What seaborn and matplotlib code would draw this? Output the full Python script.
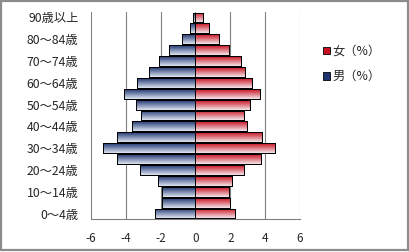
import numpy as np
import pandas as pd
import matplotlib
matplotlib.use("Agg")
import matplotlib.pyplot as plt
import seaborn as sns
from matplotlib.patches import Rectangle, Patch
from matplotlib.colors import LinearSegmentedColormap

sns.set_theme(style="white")
plt.rcParams['font.family'] = ['Noto Sans CJK JP', 'DejaVu Sans']
plt.rcParams['axes.unicode_minus'] = False

# age groups, top to bottom
ages = ["90歳以上", "85～89歳", "80～84歳", "75～79歳", "70～74歳", "65～69歳",
        "60～64歳", "55～59歳", "50～54歳", "45～49歳", "40～44歳", "35～39歳",
        "30～34歳", "25～29歳", "20～24歳", "15～19歳", "10～14歳", "5～9歳", "0～4歳"]
male = [0.17, 0.33, 0.77, 1.52, 2.09, 2.67, 3.36, 4.10, 3.41, 3.13, 3.64, 4.50,
        5.31, 4.50, 3.18, 2.15, 1.92, 1.95, 2.32]
female = [0.44, 0.78, 1.36, 1.93, 2.60, 2.83, 3.25, 3.71, 3.14, 2.79, 2.97, 3.83,
          4.58, 3.77, 2.79, 2.10, 1.90, 1.99, 2.28]
shown_labels = {"90歳以上", "80～84歳", "70～74歳", "60～64歳", "50～54歳",
                "40～44歳", "30～34歳", "20～24歳", "10～14歳", "0～4歳"}
xticks = [-6, -4, -2, 0, 2, 4, 6]
lab_f = "女（%）"
lab_m = "男（%）"

df = pd.DataFrame({
    "age": ages * 2,
    "value": female + [-v for v in male],
    "sex": [lab_f] * len(ages) + [lab_m] * len(ages),
})

fig = plt.figure(figsize=(4.10, 2.52), dpi=100)
ax = fig.add_axes([91/410, 1-219/252, 209/410, 207/252])

red_top, red_bot = "#c8101e", "#f4e4ea"
blue_top, blue_bot = "#1e3470", "#dde4f0"

sns.barplot(data=df, y="age", x="value", hue="sex", order=ages,
            hue_order=[lab_f, lab_m], palette=[red_top, blue_top],
            dodge=False, width=0.9, ax=ax, legend=False,
            edgecolor="black", linewidth=0.7, saturation=1)

ax.set_xlim(-6, 6)
ax.set_ylim(len(ages) - 0.5, -0.5)

cmap_r = LinearSegmentedColormap.from_list("r", [red_top, red_bot])
cmap_b = LinearSegmentedColormap.from_list("b", [blue_top, blue_bot])
grad = np.linspace(0, 1, 64).reshape(-1, 1)
for p in list(ax.patches):
    x0, y0 = p.get_x(), p.get_y()
    w, h = p.get_width(), p.get_height()
    if w == 0:
        continue
    cmap = cmap_r if w > 0 else cmap_b
    xa, xb = sorted([x0, x0 + w])
    im = ax.imshow(grad, cmap=cmap, aspect="auto", extent=[xa, xb, y0 + h, y0],
                   zorder=p.get_zorder() + 0.1, interpolation="bilinear")
    im.set_clip_path(p)
    edge = Rectangle((x0, y0), w, h, fill=False, edgecolor="black", linewidth=0.7,
                     zorder=p.get_zorder() + 0.2)
    ax.add_patch(edge)
ax.set_xlim(-6, 6)
ax.set_ylim(len(ages) - 0.5, -0.5)

ax.set_xticks(xticks)
ax.set_xticklabels([str(t) for t in xticks], fontsize=8.5)
ax.set_yticks(range(len(ages)))
ax.set_yticklabels([a if a in shown_labels else "" for a in ages], fontsize=8.8)
ax.tick_params(axis="y", length=0, pad=9)
ax.tick_params(axis="x", length=4, width=0.8, color="#808080", direction="out", pad=5)
ax.set_xlabel("")
ax.set_ylabel("")
for s in ["top", "right", "left"]:
    ax.spines[s].set_visible(False)
ax.spines["bottom"].set_color("#808080")
ax.spines["bottom"].set_linewidth(0.8)
for t in xticks:
    ax.axvline(t, color="#808080", linewidth=0.8, zorder=0)
ax.set_axisbelow(True)

handles = [Patch(facecolor=red_top, edgecolor="black", linewidth=0.6, label=lab_f),
           Patch(facecolor=blue_top, edgecolor="black", linewidth=0.6, label=lab_m)]
fig.legend(handles=handles, loc="upper left", bbox_to_anchor=(318/410, 1-40/252),
           frameon=False, fontsize=8.8, handlelength=0.6, handleheight=0.6,
           handletextpad=0.2, labelspacing=1.0, borderaxespad=0)

fig.add_artist(Rectangle((0.002, 0.006), 0.993, 0.99, transform=fig.transFigure,
                         fill=False, edgecolor="#8c8c8c", linewidth=1.6))

fig.savefig("out.png", dpi=100)
